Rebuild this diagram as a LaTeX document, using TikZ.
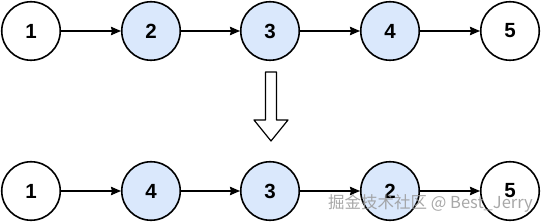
\documentclass[tikz,border=0pt]{standalone}
\usepackage{fontspec}
\setmainfont{Liberation Sans}
\newfontfamily\cjkfont{Noto Sans CJK SC}
\usetikzlibrary{arrows.meta,positioning}
\definecolor{nodeblue}{RGB}{218,232,252}

\begin{document}
\begin{tikzpicture}[x=1pt,y=-1pt,line cap=round,line join=round,
		listnode/.style={circle,draw=black,line width=1.6pt,minimum size=58.5pt,inner sep=0pt,
			font=\bfseries\fontsize{20.5}{20.5}\selectfont},
		linkarrow/.style={-{Stealth[length=10pt,width=8.5pt,inset=1pt]},line width=1.2pt}]
		\useasboundingbox (0,0) rectangle (542,222);
		% original list
		\foreach \n/\x/\f in {1/31/white,2/151/nodeblue,3/270/nodeblue,4/390/nodeblue,5/510/white}
			\node[listnode,fill=\f] (top\n) at (\x,31) {\n};
		\foreach \a/\b in {1/2,2/3,3/4,4/5}
			\draw[linkarrow] (top\a) -- (top\b);
		% reversed middle part
		\foreach \i/\n/\x/\f in {1/1/31/white,2/4/151/nodeblue,3/3/270/nodeblue,4/2/390/nodeblue,5/5/510/white}
			\node[listnode,fill=\f] (bot\i) at (\x,191) {\n};
		\foreach \a/\b in {1/2,2/3,3/4,4/5}
			\draw[linkarrow] (bot\a) -- (bot\b);
		% block arrow
		\draw[line width=1.2pt,fill=white] (265.5,72) -- (276.5,72) -- (276.5,120) -- (288,120)
			-- (271,141) -- (254,120) -- (265.5,120) -- cycle;
		\node[text=gray!80,opacity=0.85,anchor=east,inner sep=0pt,
			font=\cjkfont\fontsize{16.5}{16.5}\selectfont] (mark) at (533,203) {掘金技术社区 @ Best\_Jerry};
\end{tikzpicture}
\end{document}
